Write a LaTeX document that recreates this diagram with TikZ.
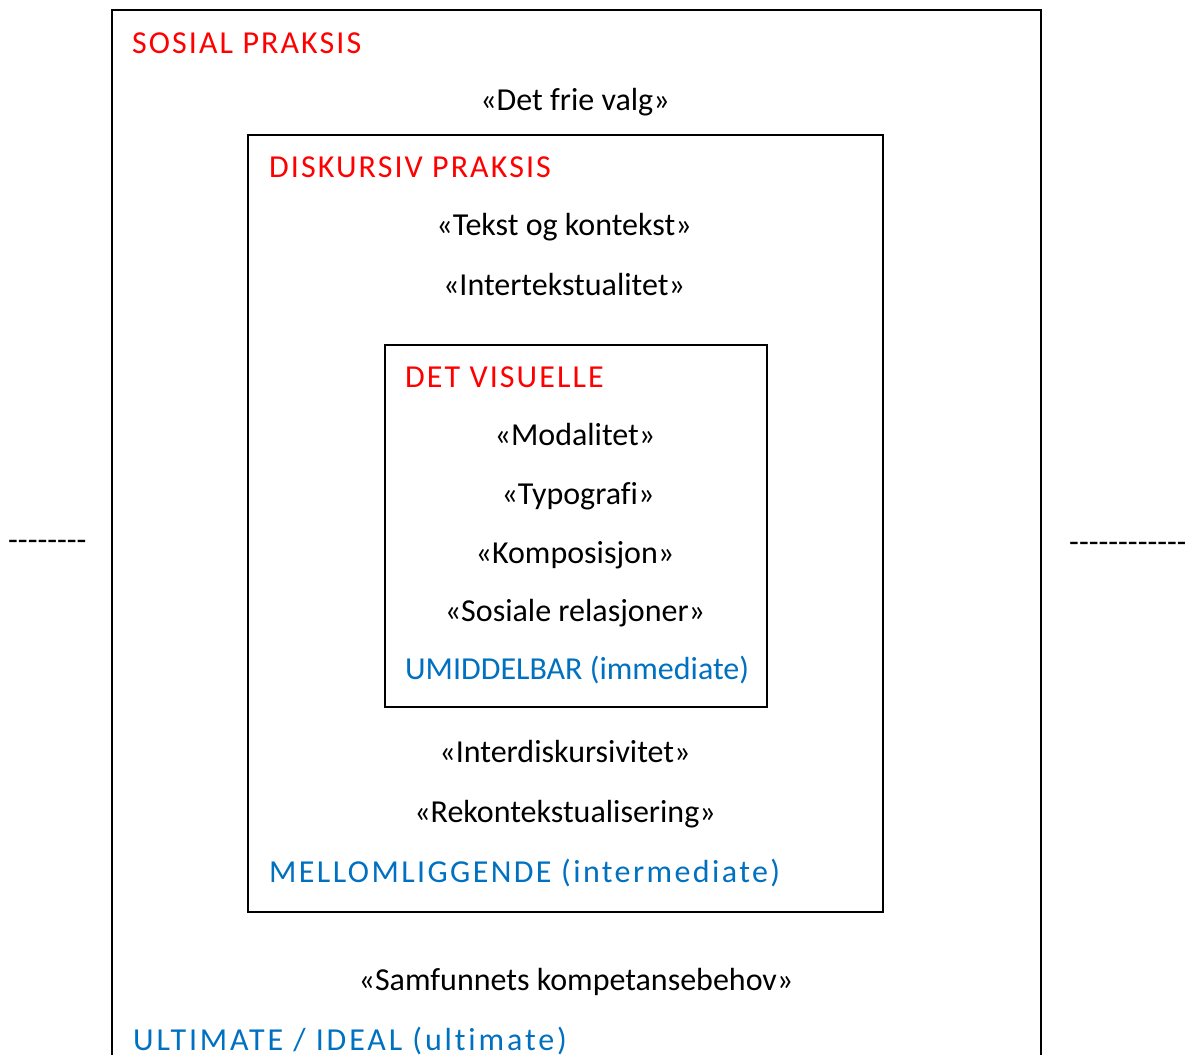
\documentclass[tikz,border=0pt]{standalone}
\usepackage{fontspec}
\setmainfont{Carlito}[Ligatures={TeX,NoCommon}]
\definecolor{praksisred}{RGB}{255,0,0}
\definecolor{nivablue}{RGB}{0,112,192}

\begin{document}
\begin{tikzpicture}[x=1pt,y=-1pt,
  ramme/.style = {draw,line width=1.5pt},
  overskrift/.style = {anchor=base west,inner sep=0pt,text=praksisred,
    font=\fontsize{32}{38}\selectfont\addfontfeatures{LetterSpace=6.5}},
  niva/.style = {anchor=base west,inner sep=0pt,text=nivablue,
    font=\fontsize{32}{38}\selectfont\addfontfeatures{LetterSpace=#1}},
  niva/.default = 7.5,
  begrep/.style = {anchor=base,inner sep=0pt,font=\fontsize{32}{38}\selectfont}]
\useasboundingbox (0,0) rectangle (1185,1054);

% boksene
\draw[ramme] (112,1070) -- (112,10) -- (1041,10) -- (1041,1070);
\draw[ramme] (248,135) rectangle (883,912);
\draw[ramme] (385,345) rectangle (767,707);

% sosial praksis
\node[overskrift] (sosial) at (132,54) {SOSIAL PRAKSIS};
\node[begrep] (valg) at (575,111) {«Det frie valg»};

% diskursiv praksis
\node[overskrift] (diskursiv) at (269,177) {DISKURSIV PRAKSIS};
\node[begrep] (tekst) at (564,235) {«Tekst og kontekst»};
\node[begrep] (inter) at (564,295) {«Intertekstualitet»};

% det visuelle
\node[overskrift] (visuelle) at (405,387) {DET VISUELLE};
\node[begrep] (modal) at (575,445) {«Modalitet»};
\node[begrep] (typo) at (578,504) {«Typografi»};
\node[begrep] (kompo) at (575,563) {«Komposisjon»};
\node[begrep] (relasjon) at (575,621) {«Sosiale relasjoner»};
\node[niva=0] (umiddelbar) at (405,679) {UMIDDELBAR (immediate)};

\node[begrep] (interdisk) at (565,762) {«Interdiskursivitet»};
\node[begrep] (rekontekst) at (565,822) {«Rekontekstualisering»};
\node[niva] (mellom) at (269,882) {MELLOMLIGGENDE (intermediate)};

\node[begrep] (samfunn) at (576,990) {«Samfunnets kompetansebehov»};
\node[niva=9] (ultimate) at (133,1050) {ULTIMATE / IDEAL (ultimate)};

% stiplene på sidene
\node[anchor=base west,inner sep=0pt,font=\fontsize{32}{38}\selectfont] (venstre) at (8,550) {-{}-{}-{}-{}-{}-{}-{}-};
\node[anchor=base west,inner sep=0pt,font=\fontsize{32}{38}\selectfont] (hoyre) at (1069,552) {-{}-{}-{}-{}-{}-{}-{}-{}-{}-{}-{}-};
\end{tikzpicture}
\end{document}
